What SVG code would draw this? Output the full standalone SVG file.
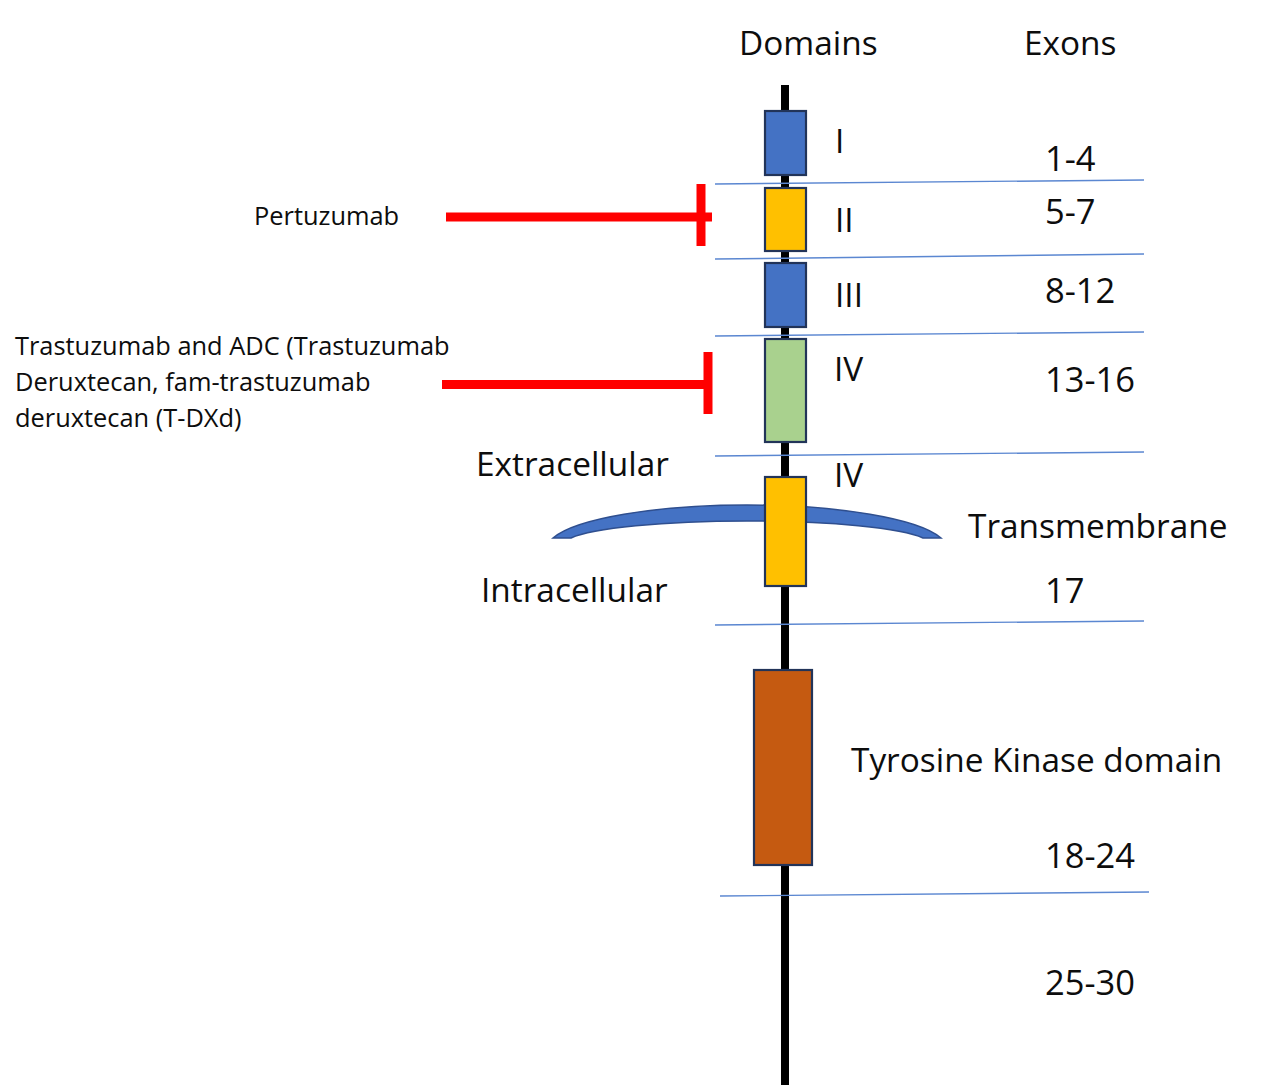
<svg xmlns="http://www.w3.org/2000/svg" width="1279" height="1090" viewBox="0 0 1279 1090">
<style>
  text { font-family: "Open Sans", "Liberation Sans", sans-serif; fill: #0d0d0d; }
  .big { font-size: 33.4px; }
  .num { font-size: 34.5px; }
  .small { font-size: 25.4px; }
  .sep { stroke: #5b87d1; stroke-width: 1.4; fill: none; }
  .box { stroke: #223459; stroke-width: 2.2; }
  .inh { stroke: #ff0000; stroke-width: 9; fill: none; }
</style>
<rect x="0" y="0" width="1279" height="1090" fill="#ffffff"/>

<g id="headers">
  <text class="big" x="739" y="55">Domains</text>
  <text class="big" x="1024" y="55">Exons</text>
</g>

<g id="spine">
  <line x1="785" y1="85" x2="785" y2="1085" stroke="#000" stroke-width="8"/>
</g>

<g id="separators">
  <line class="sep" x1="715" y1="184" x2="1144" y2="180"/>
  <line class="sep" x1="715" y1="259" x2="1144" y2="254"/>
  <line class="sep" x1="715" y1="336" x2="1144" y2="332"/>
  <line class="sep" x1="715" y1="456" x2="1144" y2="452"/>
  <line class="sep" x1="715" y1="625" x2="1144" y2="621"/>
  <line class="sep" x1="720" y1="896" x2="1149" y2="892"/>
</g>

<g id="domain-I">
  <rect class="box" x="765" y="111" width="41" height="64" fill="#4472c4"/>
  <text class="big" x="835" y="153">I</text>
  <text class="num" x="1045" y="171">1-4</text>
</g>

<g id="domain-II">
  <rect class="box" x="765" y="188" width="41" height="63" fill="#ffc000"/>
  <text class="big" x="835" y="232">II</text>
  <text class="num" x="1045" y="224">5-7</text>
</g>

<g id="domain-III">
  <rect class="box" x="765" y="263" width="41" height="64" fill="#4472c4"/>
  <text class="big" x="835" y="307">III</text>
  <text class="num" x="1045" y="303">8-12</text>
</g>

<g id="domain-IV">
  <rect class="box" x="765" y="339" width="41" height="103" fill="#a9d18e"/>
  <text class="big" x="834" y="381">IV</text>
  <text class="num" x="1045" y="392">13-16</text>
</g>

<g id="membrane">
  <path d="M553,538 A200,43.6 0 0 1 941,538 L923,538 A182,22.8 0 0 0 571,538 Z" fill="#4472c4" stroke="#2f4f8f" stroke-width="1.5"/>
  <text class="big" x="476" y="476">Extracellular</text>
  <text class="big" x="481" y="602">Intracellular</text>
</g>

<g id="transmembrane">
  <rect class="box" x="765" y="477" width="41" height="109" fill="#ffc000"/>
  <text class="big" x="834" y="487">IV</text>
  <text class="big" x="968" y="538">Transmembrane</text>
  <text class="num" x="1045" y="603">17</text>
</g>

<g id="kinase">
  <rect class="box" x="754" y="670" width="58" height="195" fill="#c55a11"/>
  <text class="big" x="851" y="772">Tyrosine Kinase domain</text>
  <text class="num" x="1045" y="868">18-24</text>
</g>

<g id="tail">
  <text class="num" x="1045" y="995">25-30</text>
</g>

<g id="drugs">
  <text class="small" x="254" y="225">Pertuzumab</text>
  <text class="small" x="15" y="355">Trastuzumab and ADC (Trastuzumab</text>
  <text class="small" x="15" y="391">Deruxtecan, fam-trastuzumab</text>
  <text class="small" x="15" y="427">deruxtecan (T-DXd)</text>
</g>

<g id="connectors">
  <line class="inh" x1="446" y1="217" x2="712" y2="217"/>
  <line class="inh" x1="701" y1="184" x2="701" y2="246"/>
  <line class="inh" x1="442" y1="384.5" x2="712" y2="384.5"/>
  <line class="inh" x1="708" y1="352" x2="708" y2="414"/>
</g>
</svg>
